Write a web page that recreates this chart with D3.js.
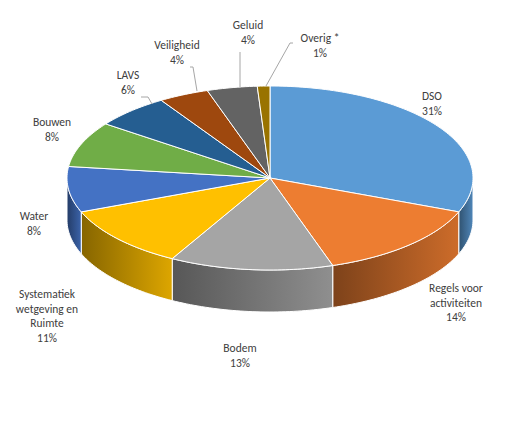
<!DOCTYPE html>
<html><head><meta charset="utf-8">
<script src="https://cdn.jsdelivr.net/npm/d3@7"></script>
<style>body{margin:0;background:#fff}text{font-family:Calibri,Carlito,"Open Sans","Liberation Sans",Arial,sans-serif;font-size:11.5px;fill:#404040}</style>
</head><body><svg id="c" width="514" height="426"></svg>
<script>
const categories=["DSO","Regels voor activiteiten","Bodem","Systematiek wetgeving en Ruimte","Water","Bouwen","LAVS","Veiligheid","Geluid","Overig *"];
const values=[31,14,13,11,8,8,6,4,4,1];
const labelLines=[["DSO"],["Regels voor","activiteiten"],["Bodem"],["Systematiek","wetgeving en","Ruimte"],["Water"],["Bouwen"],["LAVS"],["Veiligheid"],["Geluid"],["Overig *"]];
const colors=["#5B9BD5","#ED7D31","#A5A5A5","#FFC000","#4472C4","#70AD47","#255E91","#9E480E","#636363","#997300"];
// layout
const cx=270,cy=178,rx=203,ry=92,depth=42;
const labelPos=[[432,100],[456,292],[240,352],[47,298],[34,220],[52,126],[128,79],[177,49],[248,29],[320,42]];
const leaders={6:[[141,97],[148,97],[152,104]],7:[[190,67],[193,67],[197,91]],8:[[240,52],[240,87]],9:[[293,43],[290,43],[266,86]]};

const svg=d3.select("#c");
const defs=svg.append("defs");
const pie=d3.pie().sort(null).value(d=>d)(values);
const P=(a,dy=0)=>[cx+rx*Math.sin(a),cy-ry*Math.cos(a)+dy];
function arcPts(a0,a1,dy){const n=Math.max(2,Math.ceil((a1-a0)/0.02));return d3.range(n+1).map(i=>P(a0+(a1-a0)*i/n,dy));}
const line=d3.line();
pie.forEach((s,i)=>{
  const a0=Math.max(s.startAngle,Math.PI/2),a1=Math.min(s.endAngle,3*Math.PI/2);
  if(a1<=a0)return;
  const top=arcPts(a0,a1,0),bot=arcPts(a0,a1,depth).reverse();
  const c=d3.color(colors[i]);
  const g=defs.append("linearGradient").attr("id","g"+i).attr("gradientUnits","userSpaceOnUse")
    .attr("x1",P(a0)[0]).attr("x2",P(a1)[0]).attr("y1",0).attr("y2",0);
  g.append("stop").attr("offset",0).attr("stop-color",c.darker(0.4));
  g.append("stop").attr("offset",1).attr("stop-color",c.darker(1.8));
  svg.append("path").attr("d",line(top.concat(bot))+"Z").attr("fill","url(#g"+i+")").attr("stroke","#fff").attr("stroke-width",1);
});
pie.forEach((s,i)=>{
  const pts=[[cx,cy]].concat(arcPts(s.startAngle,s.endAngle,0));
  svg.append("path").attr("d",line(pts)+"Z").attr("fill",colors[i]).attr("stroke","#fff").attr("stroke-width",1);
});
Object.entries(leaders).forEach(([k,p])=>svg.append("path").attr("d",line(p)).attr("fill","none").attr("stroke","#A6A6A6").attr("stroke-width",1));
pie.forEach((s,i)=>{
  const lines=labelLines[i].concat([values[i]+"%"]);
  const t=svg.append("text").attr("text-anchor","middle");
  lines.forEach((l,j)=>t.append("tspan").attr("x",labelPos[i][0]).attr("y",labelPos[i][1]+j*14.5).text(l));
});
</script></body></html>
